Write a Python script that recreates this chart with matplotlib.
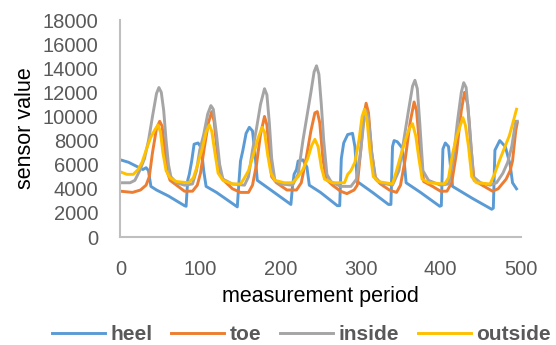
import matplotlib
matplotlib.use("Agg")
import matplotlib.pyplot as plt

plt.rcParams['font.family'] = ['Liberation Sans', 'DejaVu Sans']

heel_x = [0, 10, 22, 28, 32, 35, 38, 45, 60, 80, 82, 84, 86, 89, 92, 97, 101, 104, 107, 120, 146,
          148, 150, 153, 157, 161, 165, 168, 171, 190, 213, 215, 217, 220, 222, 228, 233, 236, 250,
          271, 274, 276, 279, 284, 290, 293, 296, 315, 335, 338, 340, 342, 346, 352, 355, 357, 375,
          399, 401, 403, 406, 410, 413, 415, 440, 464, 466, 468, 474, 481, 487, 490, 495]
heel_y = [6400, 6200, 5800, 5600, 5750, 5500, 4200, 3900, 3400, 2600, 2550, 4700, 5200, 6300, 7700,
          7800, 7400, 5500, 4200, 3700, 2500, 4500, 6300, 7200, 8600, 9100, 8800, 7000, 4700, 3800,
          2700, 4200, 5200, 5600, 6300, 6400, 5800, 4300, 3700, 2600, 2600, 6500, 7800, 8500, 8600,
          7500, 4600, 3700, 2700, 2700, 7500, 8000, 7900, 7400, 6000, 4500, 3700, 2550, 2600, 7300,
          7800, 7500, 5500, 4200, 3200, 2300, 2400, 7200, 8000, 7500, 6000, 4500, 4000]

toe_x = [0, 15, 25, 32, 36, 40, 45, 49, 52, 55, 58, 62, 70, 80, 90, 96, 100, 105, 110, 114, 117,
         121, 125, 129, 140, 150, 160, 165, 170, 175, 180, 183, 186, 189, 195, 208, 220, 226, 232,
         238, 243, 246, 249, 253, 257, 265, 275, 283, 292, 296, 300, 304, 307, 310, 314, 319, 325,
         336, 345, 350, 356, 362, 367, 370, 374, 379, 390, 400, 408, 414, 420, 426, 430, 434, 438,
         442, 452, 465, 472, 482, 487, 490, 494, 496]
toe_y = [3800, 3700, 3900, 4300, 5000, 7000, 9000, 9600, 9200, 7500, 5500, 4700, 4300, 3800, 3800,
         4300, 5300, 7500, 9500, 10400, 9600, 7000, 5200, 4700, 4000, 3700, 3700, 4300, 6000, 8500,
         10000, 9300, 7000, 5000, 4500, 3900, 3900, 4500, 6500, 8800, 10300, 10400, 9500, 6500,
         4800, 4300, 3800, 3600, 3900, 4300, 7000, 10000, 11100, 10300, 7000, 4800, 4400, 3900,
         3700, 4300, 6500, 9500, 11200, 10500, 7500, 4600, 4200, 3800, 3800, 4500, 7000, 10500,
         12000, 11000, 7500, 4700, 4300, 3800, 4000, 4800, 5500, 6300, 8800, 9500]

inside_x = [0, 12, 18, 24, 30, 35, 40, 45, 48, 51, 54, 57, 60, 63, 70, 80, 90, 95, 99, 104, 109,
            113, 116, 120, 124, 128, 140, 155, 160, 165, 170, 175, 180, 183, 186, 189, 193, 200,
            215, 222, 228, 233, 238, 242, 245, 248, 251, 254, 258, 263, 275, 288, 295, 300, 304,
            307, 310, 314, 318, 325, 340, 348, 354, 360, 365, 368, 371, 374, 378, 385, 400, 410,
            416, 421, 426, 429, 432, 436, 441, 450, 462, 470, 478, 484, 489, 494, 496]
inside_y = [4500, 4500, 4700, 5500, 6500, 8000, 10000, 11900, 12400, 12000, 10500, 8000, 6000, 5000,
            4500, 4300, 4400, 5500, 7200, 8500, 10200, 10900, 10600, 8500, 6000, 4800, 4400, 4300,
            5000, 7200, 9000, 11000, 12300, 11800, 9500, 6500, 4700, 4400, 4300, 5200, 8000, 10000,
            12000, 13700, 14200, 13500, 11000, 8000, 5200, 4600, 4200, 4200, 4800, 7000, 9500,
            10500, 9800, 7000, 5000, 4500, 4300, 5500, 8000, 10500, 12500, 13000, 12300, 9500, 5500,
            4700, 4300, 4400, 6500, 9500, 12000, 12800, 12400, 9500, 5000, 4500, 4300, 4500, 5300,
            6200, 7500, 9600, 9600]

outside_x = [0, 8, 16, 22, 27, 32, 38, 44, 47, 50, 53, 57, 62, 70, 85, 91, 96, 102, 107, 111, 114,
             118, 122, 128, 140, 150, 154, 160, 166, 172, 177, 180, 184, 188, 193, 205, 215, 222,
             228, 234, 239, 243, 247, 251, 255, 265, 280, 284, 288, 293, 298, 302, 305, 308, 312,
             316, 322, 340, 345, 350, 356, 361, 365, 369, 373, 377, 385, 405, 410, 415, 420, 425,
             428, 431, 435, 439, 445, 462, 468, 474, 480, 486, 491, 495]
outside_y = [5400, 5200, 5200, 5600, 6200, 7200, 8300, 9000, 9300, 8700, 7000, 5500, 4900, 4600,
             4500, 4900, 5900, 7300, 8700, 9300, 8800, 7000, 5300, 4700, 4400, 4400, 4800, 5500,
             6800, 8200, 9100, 8700, 6800, 5300, 4700, 4500, 4500, 5000, 5600, 6500, 7600, 8100,
             7500, 5800, 4800, 4500, 4500, 5200, 5500, 6200, 8000, 10000, 10600, 9800, 7000, 5000,
             4600, 4400, 5500, 6700, 8000, 9000, 9400, 8400, 6500, 4800, 4500, 4400, 4900, 6900,
             8300, 9300, 9900, 9300, 7500, 5000, 4500, 4400, 5300, 6400, 7400, 8400, 9600, 10600]

fig = plt.figure(figsize=(5.56, 3.45), dpi=100)
ax = fig.add_axes([0.2167, 0.313, 0.7195, 0.629])

ax.plot(heel_x, heel_y, color='#5B9BD5', lw=2.1, label='heel')
ax.plot(toe_x, toe_y, color='#ED7D31', lw=2.1, label='toe')
ax.plot(inside_x, inside_y, color='#A5A5A5', lw=2.1, label='inside')
ax.plot(outside_x, outside_y, color='#FFC000', lw=2.1, label='outside')

ax.set_xlim(0, 500)
ax.set_ylim(0, 18000)
ax.set_xticks(range(0, 501, 100))
ax.set_yticks(range(0, 18001, 2000))

for s in ['top', 'right']:
    ax.spines[s].set_visible(False)
for s in ['left', 'bottom']:
    ax.spines[s].set_color('#BFBFBF')
    ax.spines[s].set_linewidth(1.5)

ax.tick_params(axis='y', length=0, pad=16, labelsize=14.5, labelcolor='#595959')
ax.tick_params(axis='x', length=0, pad=16.5, labelsize=14.5, labelcolor='#595959')

ax.set_xlabel('measurement period', fontsize=15.5, labelpad=5)
ax.set_ylabel('sensor value', fontsize=15.5, labelpad=5)

leg = fig.legend(loc='center', bbox_to_anchor=(0.542, 0.03), ncol=4, frameon=False,
                 handlelength=2.55, handletextpad=0.25, columnspacing=0.9,
                 borderpad=0.2, prop={'size': 15, 'weight': 'bold'})
for t in leg.get_texts():
    t.set_color('#595959')

fig.savefig('out.png', dpi=100)
